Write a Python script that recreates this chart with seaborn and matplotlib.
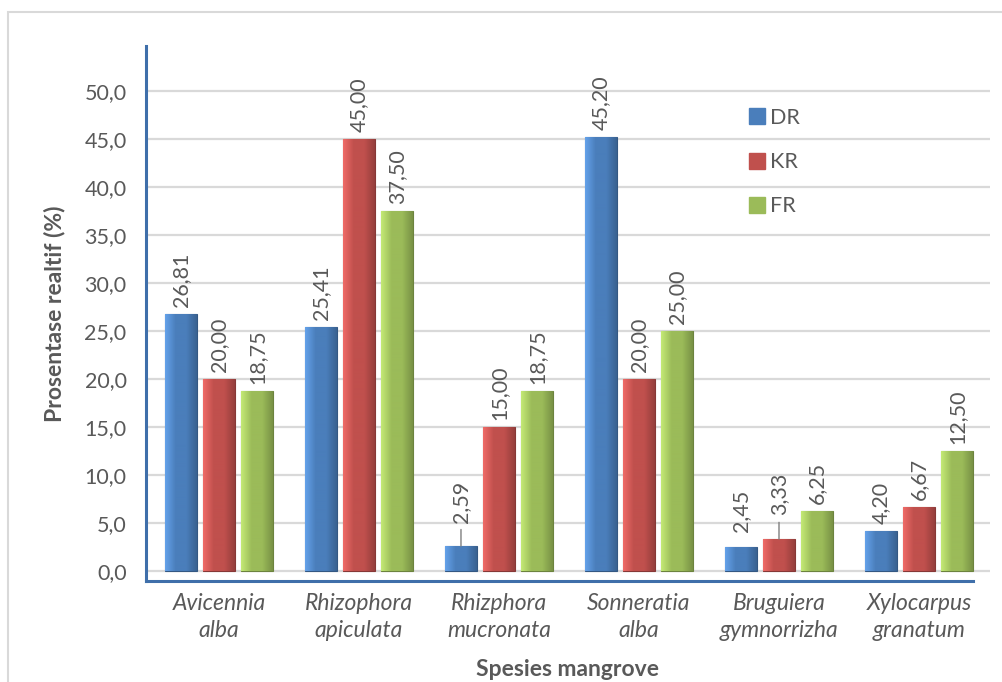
import numpy as np
import pandas as pd
import matplotlib
matplotlib.use("Agg")
import matplotlib.pyplot as plt
from matplotlib.patches import Rectangle
from matplotlib.lines import Line2D
from matplotlib.colors import LinearSegmentedColormap, to_rgb
import seaborn as sns

# ---- data ----
species = ["Avicennia\nalba", "Rhizophora\napiculata", "Rhizphora\nmucronata",
           "Sonneratia\nalba", "Bruguiera\ngymnorrizha", "Xylocarpus\ngranatum"]
series = ["DR", "KR", "FR"]
dr = [26.81, 25.41, 2.59, 45.20, 2.45, 4.20]
kr = [20.00, 45.00, 15.00, 20.00, 3.33, 6.67]
fr = [18.75, 37.50, 18.75, 25.00, 6.25, 12.50]
yticks = [0, 5, 10, 15, 20, 25, 30, 35, 40, 45, 50]

colors = {"DR": "#4A7EBB", "KR": "#C0504D", "FR": "#9BBB59"}

df = pd.DataFrame({
    "species": species * 3,
    "series": [s for s in series for _ in species],
    "value": dr + kr + fr,
})

sns.set_theme(style="white")
plt.rcParams["font.family"] = ["Lato", "DejaVu Sans"]
text_col = "#595959"

fig = plt.figure(figsize=(10.03, 6.82), dpi=100)
W, H = 1003, 682

# outer chart border
fig.patches.append(Rectangle((8 / W, -0.05), 1.2, 1 - 12 / H + 0.05,
                             transform=fig.transFigure, fill=False,
                             edgecolor="#D9D9D9", lw=1.5))

ax = fig.add_axes([146 / W, 1 - 581 / H, (990 - 146) / W, (581 - 46) / H])

sns.barplot(data=df, x="species", y="value", hue="series", palette=colors,
            hue_order=series, order=species, width=0.814, gap=0.16,
            saturation=1, ax=ax, legend=False, errorbar=None)

ax.set_xlim(-0.521, 5.507)
ax.set_ylim(-1.04, 54.69)
ax.set_yticks(yticks)
ax.set_yticklabels([f"{v:.1f}".replace(".", ",") for v in yticks],
                   fontsize=15.5, color=text_col)
ax.yaxis.grid(True, color="#D9D9D9", lw=1.6)
ax.set_axisbelow(True)
ax.tick_params(axis="both", length=0)
ax.tick_params(axis="y", pad=14)
ax.tick_params(axis="x", pad=9)
for lab in ax.get_xticklabels():
    lab.set_fontstyle("italic")
    lab.set_fontsize(16.5)
    lab.set_color(text_col)
    lab.set_linespacing(1.3)

for s in ["top", "right"]:
    ax.spines[s].set_visible(False)
for s in ["left", "bottom"]:
    ax.spines[s].set_color("#3F6FAA")
    ax.spines[s].set_linewidth(2.2)
ax.spines["bottom"].set_bounds(-0.521, 5.386)

ax.set_xlabel("Spesies mangrove", fontsize=16.5, fontweight="bold",
              color=text_col, labelpad=13)
ax.set_ylabel("Prosentase realtif (%)", fontsize=16.5, fontweight="bold",
              color=text_col, labelpad=14)

# shaded bars: horizontal light-to-dark gradient clipped to each bar
def shade(c):
    r = np.array(to_rgb(c))
    light = np.clip(r * 1.18 + 0.05, 0, 1)
    dark = r * 0.78
    return LinearSegmentedColormap.from_list("b", [light, r, r, dark])

bars = [p for p in ax.patches if p.get_height() > 0]
for p in bars:
    fc = p.get_facecolor()
    x0, y0 = p.get_x(), p.get_y()
    w, h = p.get_width(), p.get_height()
    grad = np.linspace(0, 1, 64).reshape(1, -1)
    im = ax.imshow(grad, cmap=shade(fc[:3]), aspect="auto",
                   extent=(x0, x0 + w, y0, y0 + h), zorder=p.get_zorder() + 0.1)
    im.set_clip_path(p)
    p.set_edgecolor(tuple(np.array(fc[:3]) * 0.7))
    p.set_linewidth(0.8)
ax.set_xlim(-0.521, 5.507)
ax.set_ylim(-1.04, 54.69)

# value labels (rotated), with leader lines on the short bars
leader = {("DR", 2), ("KR", 4)}
for si, s in enumerate(series):
    cont = ax.containers[si]
    vals = [dr, kr, fr][si]
    for ci, (rect, v) in enumerate(zip(cont, vals)):
        xc = rect.get_x() + rect.get_width() / 2
        txt = f"{v:.2f}".replace(".", ",")
        if (s, ci) in leader:
            ax.annotate("", xy=(xc, v), xytext=(0, 12), textcoords="offset points",
                        arrowprops=dict(arrowstyle="-", color="#7F7F7F", lw=1,
                                        shrinkA=0, shrinkB=0))
            off = 17
        elif v < 3:
            off = 11
        else:
            off = 5
        ax.annotate(txt, xy=(xc, v), xytext=(0, off), textcoords="offset points",
                    rotation=90, ha="center", va="bottom", fontsize=15.5,
                    color=text_col)

# legend
handles = [Line2D([], [], marker="s", ls="none", markersize=11,
                  markerfacecolor=colors[s], markeredgecolor=colors[s])
           for s in series]
leg = fig.legend(handles, series, loc="upper left",
                 bbox_to_anchor=(746 / W, 1 - 108 / H), frameon=False,
                 fontsize=15.5, labelspacing=1.12, handletextpad=0.1,
                 handlelength=1.0, borderpad=0, borderaxespad=0)
for t in leg.get_texts():
    t.set_color(text_col)

fig.savefig("out.png", dpi=100)
